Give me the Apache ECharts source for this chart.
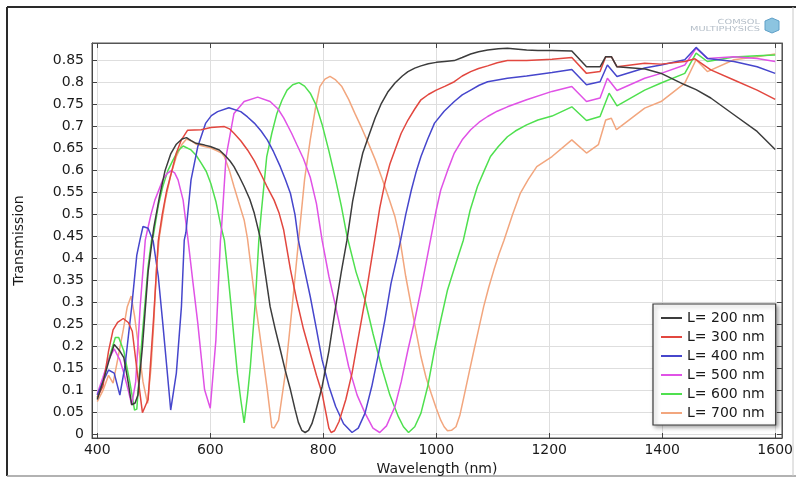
<!DOCTYPE html>
<html>
<head>
<meta charset="utf-8">
<script src="https://cdn.jsdelivr.net/npm/echarts@6/dist/echarts.min.js"></script>
<style>
html,body{margin:0;padding:0;background:#fff;}
#c{width:796px;height:481px;}
</style>
</head>
<body>
<div id="c"></div>
<script>
// ---- data (wavelength nm, transmission) ----
const seriesNames = ['L= 200 nm','L= 300 nm','L= 400 nm','L= 500 nm','L= 600 nm','L= 700 nm'];
const xTicks = [400,600,800,1000,1200,1400,1600];
const yTicks = [0,0.05,0.1,0.15,0.2,0.25,0.3,0.35,0.4,0.45,0.5,0.55,0.6,0.65,0.7,0.75,0.8,0.85];

const L200 = [[400,0.08],[410,0.12],[420,0.165],[430,0.205],[440,0.19],[447,0.175],[455,0.117],[461,0.068],[467,0.072],[472,0.09],[480,0.2],[490,0.37],[500,0.47],[510,0.54],[520,0.6],[530,0.638],[540,0.66],[550,0.672],[558,0.675],[566,0.668],[575,0.662],[590,0.658],[600,0.655],[616,0.647],[625,0.636],[635,0.622],[642,0.609],[650,0.59],[660,0.564],[670,0.535],[678,0.503],[688,0.45],[697,0.37],[706,0.291],[715,0.24],[724,0.193],[733,0.145],[742,0.102],[750,0.058],[756,0.028],[762,0.01],[768,0.005],[774,0.01],[780,0.025],[787,0.055],[798,0.109],[810,0.19],[822,0.291],[832,0.37],[842,0.442],[852,0.53],[862,0.595],[870,0.64],[880,0.677],[892,0.72],[903,0.753],[915,0.78],[927,0.799],[940,0.815],[950,0.825],[962,0.833],[973,0.838],[986,0.843],[1000,0.846],[1015,0.848],[1032,0.85],[1046,0.857],[1061,0.865],[1075,0.87],[1091,0.874],[1110,0.877],[1126,0.878],[1145,0.876],[1160,0.874],[1180,0.873],[1205,0.873],[1240,0.872],[1266,0.836],[1290,0.836],[1300,0.859],[1310,0.859],[1320,0.836],[1370,0.831],[1400,0.82],[1440,0.795],[1460,0.784],[1486,0.765],[1527,0.727],[1568,0.689],[1600,0.648]];

const L300 = [[400,0.085],[410,0.11],[420,0.19],[428,0.238],[436,0.255],[446,0.264],[455,0.255],[462,0.235],[470,0.15],[480,0.05],[490,0.08],[500,0.27],[508,0.44],[515,0.5],[523,0.555],[531,0.594],[540,0.64],[549,0.67],[560,0.692],[584,0.693],[601,0.698],[625,0.7],[634,0.695],[642,0.685],[654,0.668],[666,0.647],[678,0.622],[689,0.594],[700,0.565],[713,0.533],[722,0.503],[730,0.465],[742,0.375],[753,0.306],[765,0.24],[777,0.185],[788,0.135],[798,0.094],[805,0.048],[810,0.015],[814,0.005],[820,0.009],[828,0.03],[840,0.08],[851,0.14],[862,0.22],[874,0.306],[882,0.37],[891,0.442],[900,0.515],[909,0.571],[918,0.615],[927,0.647],[938,0.685],[950,0.715],[962,0.74],[973,0.761],[986,0.773],[1000,0.783],[1016,0.792],[1032,0.802],[1046,0.815],[1061,0.825],[1075,0.832],[1091,0.838],[1108,0.845],[1126,0.85],[1160,0.85],[1205,0.853],[1240,0.857],[1266,0.821],[1290,0.825],[1300,0.859],[1310,0.859],[1320,0.836],[1369,0.844],[1398,0.842],[1440,0.848],[1458,0.854],[1486,0.829],[1527,0.806],[1568,0.783],[1600,0.762]];

const L400 = [[400,0.09],[410,0.12],[420,0.147],[430,0.14],[440,0.09],[449,0.155],[461,0.291],[470,0.408],[476,0.445],[481,0.473],[490,0.469],[499,0.44],[508,0.36],[516,0.253],[523,0.155],[530,0.056],[540,0.14],[549,0.291],[554,0.442],[557,0.46],[566,0.579],[578,0.655],[592,0.708],[602,0.725],[613,0.734],[633,0.743],[654,0.734],[666,0.722],[678,0.708],[690,0.69],[701,0.67],[712,0.643],[724,0.609],[733,0.58],[742,0.548],[750,0.5],[756,0.442],[766,0.38],[777,0.314],[788,0.24],[798,0.17],[810,0.11],[822,0.064],[836,0.025],[851,0.005],[862,0.015],[874,0.049],[886,0.11],[898,0.185],[909,0.26],[920,0.344],[930,0.4],[937,0.442],[946,0.5],[956,0.556],[964,0.595],[973,0.632],[985,0.672],[997,0.708],[1014,0.735],[1032,0.757],[1046,0.772],[1061,0.783],[1076,0.794],[1091,0.802],[1126,0.81],[1160,0.815],[1205,0.823],[1240,0.83],[1266,0.795],[1290,0.802],[1303,0.84],[1320,0.814],[1369,0.833],[1398,0.84],[1440,0.852],[1460,0.88],[1480,0.855],[1527,0.848],[1568,0.836],[1600,0.821]];

const L500 = [[400,0.093],[410,0.13],[420,0.17],[430,0.195],[440,0.17],[447,0.14],[455,0.1],[461,0.068],[468,0.12],[476,0.291],[485,0.442],[488,0.46],[495,0.5],[502,0.533],[516,0.579],[524,0.594],[531,0.6],[537,0.595],[543,0.579],[552,0.533],[560,0.45],[569,0.35],[578,0.253],[590,0.102],[600,0.06],[610,0.215],[618,0.44],[620,0.47],[628,0.632],[642,0.73],[660,0.757],[684,0.767],[706,0.757],[720,0.74],[730,0.72],[744,0.685],[753,0.66],[765,0.627],[777,0.585],[788,0.525],[798,0.442],[810,0.36],[822,0.291],[834,0.22],[845,0.155],[860,0.09],[874,0.049],[888,0.015],[900,0.005],[912,0.02],[927,0.064],[938,0.12],[950,0.193],[962,0.26],[973,0.329],[982,0.39],[991,0.45],[1000,0.51],[1008,0.556],[1020,0.6],[1032,0.64],[1046,0.67],[1061,0.693],[1076,0.71],[1091,0.723],[1108,0.735],[1126,0.745],[1160,0.761],[1205,0.78],[1240,0.791],[1266,0.757],[1290,0.765],[1303,0.81],[1320,0.782],[1369,0.81],[1398,0.821],[1440,0.84],[1460,0.878],[1480,0.855],[1527,0.859],[1568,0.855],[1600,0.848]];

const L600 = [[400,0.084],[410,0.12],[420,0.17],[432,0.221],[438,0.221],[447,0.19],[458,0.117],[466,0.056],[470,0.058],[479,0.215],[490,0.382],[496,0.442],[499,0.45],[508,0.52],[516,0.564],[525,0.6],[534,0.624],[543,0.645],[552,0.656],[566,0.647],[575,0.635],[584,0.617],[593,0.598],[601,0.571],[610,0.53],[619,0.473],[625,0.442],[631,0.37],[637,0.291],[642,0.22],[648,0.14],[654,0.08],[660,0.027],[666,0.09],[671,0.155],[680,0.306],[686,0.442],[690,0.5],[700,0.632],[709,0.685],[718,0.73],[727,0.76],[736,0.783],[746,0.795],[757,0.8],[767,0.792],[777,0.776],[787,0.75],[798,0.705],[810,0.645],[822,0.579],[832,0.52],[842,0.452],[858,0.37],[874,0.306],[888,0.23],[903,0.155],[918,0.09],[933,0.041],[942,0.018],[951,0.005],[962,0.018],[973,0.049],[985,0.11],[997,0.193],[1008,0.26],[1020,0.329],[1035,0.39],[1048,0.442],[1060,0.51],[1073,0.564],[1085,0.6],[1096,0.632],[1110,0.655],[1126,0.677],[1140,0.69],[1160,0.704],[1180,0.715],[1205,0.724],[1240,0.745],[1266,0.714],[1290,0.723],[1306,0.776],[1320,0.747],[1369,0.783],[1398,0.799],[1440,0.821],[1460,0.867],[1480,0.848],[1527,0.858],[1568,0.861],[1600,0.863]];

const L700 = [[400,0.075],[410,0.1],[420,0.135],[428,0.117],[436,0.17],[446,0.238],[453,0.29],[460,0.315],[466,0.27],[473,0.2],[481,0.12],[489,0.071],[495,0.15],[500,0.253],[505,0.382],[510,0.45],[520,0.53],[530,0.59],[540,0.632],[550,0.66],[558,0.672],[566,0.668],[575,0.66],[590,0.655],[600,0.652],[612,0.645],[620,0.64],[625,0.632],[634,0.6],[642,0.564],[650,0.53],[660,0.488],[666,0.445],[677,0.329],[689,0.215],[701,0.102],[709,0.017],[713,0.015],[721,0.033],[733,0.14],[745,0.291],[757,0.45],[767,0.58],[777,0.67],[786,0.74],[794,0.791],[803,0.808],[812,0.814],[822,0.806],[833,0.791],[845,0.762],[856,0.73],[868,0.697],[880,0.662],[892,0.625],[903,0.586],[915,0.542],[927,0.495],[935,0.45],[946,0.36],[956,0.291],[965,0.23],[973,0.177],[982,0.13],[991,0.094],[1000,0.06],[1008,0.033],[1014,0.018],[1020,0.009],[1027,0.01],[1035,0.018],[1042,0.045],[1049,0.086],[1058,0.14],[1067,0.193],[1076,0.245],[1084,0.291],[1093,0.335],[1102,0.374],[1111,0.41],[1120,0.442],[1135,0.5],[1149,0.549],[1163,0.58],[1178,0.609],[1205,0.632],[1240,0.67],[1266,0.64],[1287,0.659],[1300,0.715],[1310,0.719],[1319,0.693],[1369,0.742],[1398,0.757],[1440,0.799],[1460,0.852],[1480,0.825],[1527,0.852],[1568,0.859],[1600,0.865]];

const seriesData = [L200, L300, L400, L500, L600, L700];
const colors = ['#3c3c3c','#e2473f','#4646cc','#e052e6','#4fe04f','#f2a67e'];

// ---- chart ----
const chart = echarts.init(document.getElementById('c'), null, {renderer:'canvas'});
const FONT = 'DejaVu Sans';
const xMin = 390.7, xMax = 1612, yMin = -0.0075, yMax = 0.890;
const tickStyle = {show:true, inside:true, length:5, lineStyle:{color:'#444', width:1}};

const option = {
  backgroundColor:'#ffffff',
  animation:false,
  color: colors,
  textStyle:{fontFamily:FONT},
  grid:{left:92, right:9, top:43, bottom:43, show:true, borderColor:'#555', borderWidth:1, backgroundColor:'transparent'},
  xAxis:[{
    type:'value', min:xMin, max:xMax, position:'bottom',
    name:'Wavelength (nm)', nameLocation:'middle', nameGap:20,
    nameTextStyle:{fontFamily:FONT, fontSize:14, color:'#1a1a1a'},
    axisLine:{show:true, onZero:false, lineStyle:{color:'#444', width:1}},
    axisTick:Object.assign({customValues:xTicks}, tickStyle),
    axisLabel:{customValues:xTicks, margin:5, fontFamily:FONT, fontSize:14, color:'#1a1a1a', formatter:v=>String(v)},
    splitLine:{show:true, lineStyle:{color:'#dedede', width:1}}
  },{
    type:'value', min:xMin, max:xMax, position:'top',
    axisLine:{show:true, onZero:false, lineStyle:{color:'#555', width:1}},
    axisTick:Object.assign({customValues:xTicks}, tickStyle),
    axisLabel:{show:false}, splitLine:{show:false}
  }],
  yAxis:[{
    type:'value', min:yMin, max:yMax, position:'left',
    name:'Transmission', nameLocation:'middle', nameGap:66, nameRotate:90,
    nameTextStyle:{fontFamily:FONT, fontSize:14, color:'#1a1a1a'},
    axisLine:{show:true, onZero:false, lineStyle:{color:'#444', width:1}},
    axisTick:Object.assign({customValues:yTicks}, tickStyle),
    axisLabel:{customValues:yTicks, margin:8, fontFamily:FONT, fontSize:14, color:'#1a1a1a', formatter:v=>String(+v.toFixed(2))},
    splitLine:{show:true, lineStyle:{color:'#dedede', width:1}}
  },{
    type:'value', min:yMin, max:yMax, position:'right',
    axisLine:{show:true, onZero:false, lineStyle:{color:'#555', width:1}},
    axisTick:Object.assign({customValues:yTicks}, tickStyle),
    axisLabel:{show:false}, splitLine:{show:false}
  }],
  legend:{
    show:true, orient:'vertical', left:653, top:304,
    data:seriesNames,
    icon:'rect', itemWidth:21, itemHeight:2, itemGap:5,
    padding:[7,11,5,8],
    backgroundColor:'#ffffff', borderColor:'#3a3a3a', borderWidth:1.2,
    shadowBlur:4, shadowColor:'rgba(0,0,0,0.35)', shadowOffsetX:2, shadowOffsetY:2,
    textStyle:{fontFamily:FONT, fontSize:14, color:'#1a1a1a', padding:[0,0,0,0]},
    selectedMode:false
  },
  graphic:[
    {type:'line', shape:{x1:7, y1:7, x2:796, y2:7}, style:{stroke:'#2a2a2a', lineWidth:2}, silent:true},
    {type:'line', shape:{x1:7, y1:7, x2:7, y2:476}, style:{stroke:'#2a2a2a', lineWidth:2}, silent:true},
    {type:'line', shape:{x1:7, y1:476, x2:796, y2:476}, style:{stroke:'#999', lineWidth:1.5}, silent:true},
    {type:'line', shape:{x1:793, y1:7, x2:793, y2:476}, style:{stroke:'#c8c8c8', lineWidth:1}, silent:true},
    {type:'text', x:760, y:19, scaleX:1.4, style:{text:'COMSOL', font:'7px ' + FONT, fill:'#b4bec8', align:'right', textAlign:'right'}, silent:true},
    {type:'text', x:760, y:26, scaleX:1.4, style:{text:'MULTIPHYSICS', font:'7px ' + FONT, fill:'#b4bec8', align:'right', textAlign:'right'}, silent:true},
    {type:'polygon', shape:{points:[[772,18],[779,21],[779,30],[772,33],[765,30],[765,21]]}, style:{fill:'#8cc4e0', stroke:'#5fa0c8', lineWidth:1}, silent:true}
  ],
  series: seriesData.map((d,i)=>({
    name:seriesNames[i], type:'line', data:d, xAxisIndex:0, yAxisIndex:0,
    symbol:'none', smooth:false, clip:true,
    lineStyle:{color:colors[i], width:1.5},
    itemStyle:{color:colors[i]},
    z:10-i
  }))
};
chart.setOption(option);
</script>
</body>
</html>
